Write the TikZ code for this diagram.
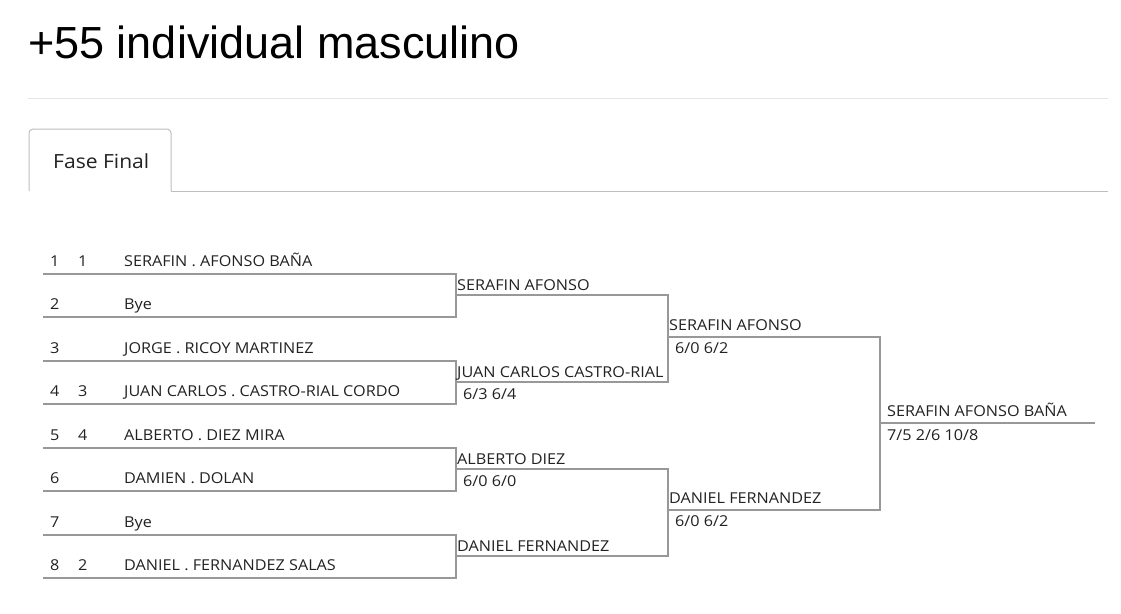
\documentclass[tikz,border=0pt]{standalone}
\usepackage{fontspec}
\setmainfont{Open Sans}
\newfontfamily\brfont[FakeStretch=1.08]{Open Sans}
\newfontfamily\titlefont{Liberation Sans}
\definecolor{brk}{RGB}{152,152,152}
\definecolor{txt}{RGB}{34,34,34}
\definecolor{rule}{RGB}{229,229,229}
\definecolor{tabline}{RGB}{190,190,190}
\begin{document}
\begin{tikzpicture}[x=1pt,y=-1pt,
  lbl/.style={anchor=base west,inner sep=0pt,text=txt,font=\brfont\fontsize{15}{17}\selectfont},
  br/.style={draw=brk,line width=2.6pt,line cap=rect}]
\useasboundingbox[fill=white] (0,0) rectangle (1121,613);
% title
\node[anchor=base west,inner sep=0pt,font=\titlefont\fontsize{45}{50}\selectfont] (title) at (28,58) {+55 individual masculino};
\draw[rule,line width=1pt] (28,98) -- (1108,98);
% tab
\draw[tabline,line width=1pt,rounded corners=4pt] (29,191) -- (29,129) -- (171,129) -- (171,191);
\draw[tabline,line width=1pt] (171,191) -- (1108,191);
\node[anchor=base west,inner sep=0pt,text=txt,font=\brfont\fontsize{19.5}{22}\selectfont] (tab) at (53,168) {Fase Final};
% round 1 rows
\foreach \n/\s/\name/\y in {1/1/SERAFIN . AFONSO BAÑA/266, 2//Bye/309, 3//JORGE . RICOY MARTINEZ/353, 4/3/JUAN CARLOS . CASTRO-RIAL CORDO/396, 5/4/ALBERTO . DIEZ MIRA/440, 6//DAMIEN . DOLAN/483, 7//Bye/527, 8/2/DANIEL . FERNANDEZ SALAS/570}{
  \node[lbl] (n\n) at (50,\y) {\n};
  \node[lbl] (s\n) at (78,\y) {\s};
  \node[lbl] (p\n) at (124,\y) {\name};
}
% round 1 line coordinates
\foreach \n/\y in {1/274,2/317,3/361,4/404,5/448,6/491,7/535,8/578}{
  \coordinate (a\n) at (44,\y);
  \coordinate (b\n) at (456,\y);
}
\draw[br] (a1) -- (b1) -- (b2) -- (a2);
\draw[br] (a3) -- (b3) -- (b4) -- (a4);
\draw[br] (a5) -- (b5) -- (b6) -- (a6);
\draw[br] (a7) -- (b7) -- (b8) -- (a8);
% round 2
\coordinate (c1) at (456,295); \coordinate (d1) at (668,295);
\coordinate (c2) at (456,382); \coordinate (d2) at (668,382);
\coordinate (c3) at (456,469); \coordinate (d3) at (668,469);
\coordinate (c4) at (456,556); \coordinate (d4) at (668,556);
\draw[br] (c1) -- (d1) -- (d2) -- (c2);
\draw[br] (c3) -- (d3) -- (d4) -- (c4);
\node[lbl] (w1) at (457,290) {SERAFIN AFONSO};
\node[lbl] (w2) at (457,377) {JUAN CARLOS CASTRO-RIAL};
\node[lbl] (r2) at (463,399) {6/3 6/4};
\node[lbl] (w3) at (457,464) {ALBERTO DIEZ};
\node[lbl] (r3) at (463,486) {6/0 6/0};
\node[lbl] (w4) at (457,551) {DANIEL FERNANDEZ};
% round 3
\coordinate (e1) at (668,337); \coordinate (f1) at (880,337);
\coordinate (e2) at (668,510); \coordinate (f2) at (880,510);
\draw[br] (e1) -- (f1) -- (f2) -- (e2);
\node[lbl] (x1) at (669,330) {SERAFIN AFONSO};
\node[lbl] (q1) at (675,353) {6/0 6/2};
\node[lbl] (x2) at (669,503) {DANIEL FERNANDEZ};
\node[lbl] (q2) at (675,526) {6/0 6/2};
% final
\coordinate (g1) at (880,423); \coordinate (g2) at (1094,423);
\draw[br] (g1) -- (g2);
\node[lbl] (champ) at (887,416) {SERAFIN AFONSO BAÑA};
\node[lbl] (fs) at (887,440) {7/5 2/6 10/8};
\end{tikzpicture}
\end{document}
